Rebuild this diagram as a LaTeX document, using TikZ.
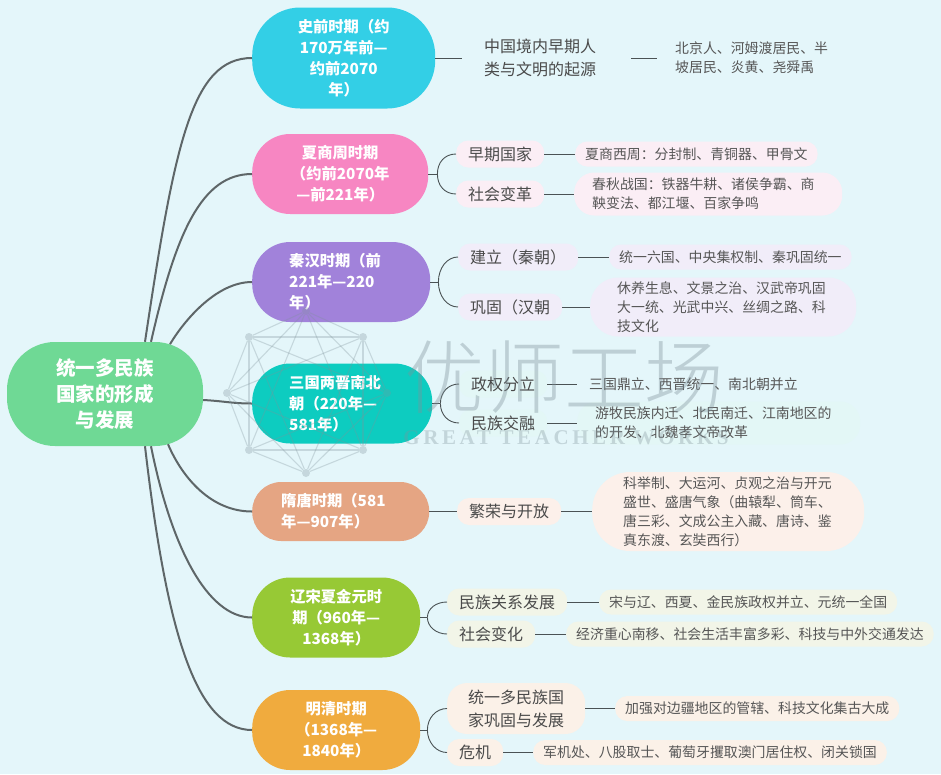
\documentclass[tikz,border=0pt]{standalone}
\usepackage{fontspec}
\setmainfont{Noto Sans CJK SC}
\newfontfamily\wmlight{Noto Sans CJK SC Light}
\newfontfamily\wmserif{Liberation Serif}[LetterSpace=17]
\usepackage{tikz}

\definecolor{pagebg}{HTML}{E4F6FA}
\definecolor{rootgreen}{HTML}{6FD995}
\definecolor{stemgray}{HTML}{5E6668}
\definecolor{linegray}{HTML}{4A5254}
\definecolor{subtext}{HTML}{4A4A4A}
\definecolor{leaftext}{HTML}{565656}
\definecolor{wmgray}{HTML}{7F929A}
\definecolor{shiqiancol}{HTML}{33CFE6}
\definecolor{xiashangcol}{HTML}{F786C2}
\definecolor{qinhancol}{HTML}{A182DA}
\definecolor{sanguocol}{HTML}{0DCCC0}
\definecolor{suitangcol}{HTML}{E5A583}
\definecolor{liaosongcol}{HTML}{97C935}
\definecolor{mingqingcol}{HTML}{F0AB3E}
\definecolor{tintxia}{HTML}{FBEEF5}
\definecolor{tintqin}{HTML}{F1EDF9}
\definecolor{tintsan}{HTML}{E3F7F6}
\definecolor{tintsui}{HTML}{FCF0EA}
\definecolor{tintliao}{HTML}{F2F5E8}
\definecolor{tintming}{HTML}{FBF1E8}

\tikzset{
    rootbox/.style={fill=rootgreen, text=white, rounded corners=48pt, inner sep=0pt, align=center, font=\fontsize{19.5}{26}\selectfont\bfseries},
    periodbox/.style={anchor=west, text=white, inner sep=0pt, rounded corners=38pt, minimum height=80pt, align=center, font=\fontsize{15.3}{21}\selectfont\bfseries},
    subbox/.style={anchor=west, text=subtext, inner xsep=12pt, inner ysep=0pt, rounded corners=12pt, minimum height=27pt, align=left, font=\fontsize{16}{23}\selectfont},
    leafbox/.style={anchor=west, text=leaftext, inner xsep=10pt, inner ysep=0pt, rounded corners=12pt, minimum height=25pt, align=left, font=\fontsize{13.9}{19}\selectfont},
    mainline/.style={draw=stemgray, line width=2pt},
    branchline/.style={draw=linegray, line width=.9pt},
    wmdot/.style={circle, fill=wmgray, inner sep=0pt, minimum size=8pt, opacity=.3}
}

\begin{document}
\begin{tikzpicture}[x=1pt, y=-1pt]

    % Page background, fixes the size
    \useasboundingbox (0,0) rectangle (941,774);
    \fill[pagebg] (0,0) rectangle (941,774);

    % Root and the seven periods
    \node (root) [rootbox, minimum width=196pt, minimum height=104pt] at (105,394) {统一多民族\\国家的形成\\与发展};

    \node (shiqian) [periodbox, fill=shiqiancol, minimum width=183pt, minimum height=101pt, rounded corners=48pt] at (252,58) {史前时期（约\\170万年前—\\约前2070\\年）};
    \node (xiashang) [periodbox, fill=xiashangcol, minimum width=176pt] at (252,174) {夏商周时期\\（约前2070年\\—前221年）};
    \node (qinhan) [periodbox, fill=qinhancol, align=left, inner xsep=37pt, text width=104pt] at (252,282) {秦汉时期（前\\221年—220\\年）};
    \node (sanguo) [periodbox, fill=sanguocol, align=left, inner xsep=37pt, text width=106pt] at (252,403.5) {三国两晋南北\\朝（220年—\\581年）};
    \node (suitang) [periodbox, fill=suitangcol, align=left, inner xsep=29pt, text width=119pt, minimum height=59pt, rounded corners=29pt] at (252,511.5) {隋唐时期（581\\年—907年）};
    \node (liaosong) [periodbox, fill=liaosongcol, minimum width=168pt] at (252,617.5) {辽宋夏金元时\\期（960年—\\1368年）};
    \node (mingqing) [periodbox, fill=mingqingcol, minimum width=168pt] at (252,730) {明清时期\\（1368年—\\1840年）};

    % Second level nodes
    \node (zhongguo) [subbox, inner xsep=22pt, text width=125pt] at (462,58) {中国境内早期人\\类与文明的起源};
    \node (zaoqi) [subbox, fill=tintxia] at (456,154) {早期国家};
    \node (biange) [subbox, fill=tintxia] at (456,194) {社会变革};
    \node (jianli) [subbox, fill=tintqin] at (458,257) {建立（秦朝）};
    \node (gonggu) [subbox, fill=tintqin] at (458,307) {巩固（汉朝};
    \node (zhengquan) [subbox, fill=tintsan] at (459,384) {政权分立};
    \node (jiaorong) [subbox, fill=tintsan] at (459,423) {民族交融};
    \node (fanrong) [subbox, fill=tintsui] at (457,511.5) {繁荣与开放};
    \node (guanxi) [subbox, fill=tintliao] at (447,602) {民族关系发展};
    \node (bianhua) [subbox, fill=tintliao] at (447,634) {社会变化};
    \node (tongyi) [subbox, fill=tintming, inner xsep=21pt, rounded corners=20pt, minimum height=51pt] at (447,708.5) {统一多民族国\\家巩固与发展};
    \node (weiji) [subbox, fill=tintming] at (447,752.5) {危机};

    % Leaves
    \node (renlei) [leafbox, inner xsep=18pt] at (657,58) {北京人、河姆渡居民、半\\坡居民、炎黄、尧舜禹};
    \node (fenfeng) [leafbox, fill=tintxia] at (575,154) {夏商西周：分封制、青铜器、甲骨文};
    \node (chunqiu) [leafbox, fill=tintxia, inner xsep=18pt, text width=232pt, rounded corners=20pt, minimum height=43pt] at (574,194) {春秋战国：铁器牛耕、诸侯争霸、商\\鞅变法、都江堰、百家争鸣};
    \node (liuguo) [leafbox, fill=tintqin] at (609,257) {统一六国、中央集权制、秦巩固统一};
    \node (xiuyang) [leafbox, fill=tintqin, inner xsep=27pt, text width=212pt, rounded corners=28pt, minimum height=59pt] at (590,307) {休养生息、文景之治、汉武帝巩固\\大一统、光武中兴、丝绸之路、科\\技文化};
    \node (dingli) [leafbox, inner xsep=12pt] at (577,384) {三国鼎立、西晋统一、南北朝并立};
    \node (youmu) [leafbox, fill=tintsan, inner xsep=18pt, text width=247pt, rounded corners=20pt, minimum height=43pt] at (577,423) {游牧民族内迁、北民南迁、江南地区的\\的开发、北魏孝文帝改革};
    \node (keju) [leafbox, fill=tintsui, inner xsep=31pt, text width=210pt, rounded corners=38pt, minimum height=79pt] at (592,511.5) {科举制、大运河、贞观之治与开元\\盛世、盛唐气象（曲辕犁、筒车、\\唐三彩、文成公主入藏、唐诗、鉴\\真东渡、玄奘西行）};
    \node (bingli) [leafbox, fill=tintliao] at (599,602) {宋与辽、西夏、金民族政权并立、元统一全国};
    \node (nanyi) [leafbox, fill=tintliao] at (566,634) {经济重心南移、社会生活丰富多彩、科技与中外交通发达};
    \node (bianjiang) [leafbox, fill=tintming] at (615,708.5) {加强对边疆地区的管辖、科技文化集古大成};
    \node (junji) [leafbox, fill=tintming] at (533,752.5) {军机处、八股取士、葡萄牙攫取澳门居住权、闭关锁国};

    % Curves from the root to each period
    \draw[mainline] ([xshift=40pt]root.north) .. controls +(30,-200) and +(-60,0) .. (shiqian.west);
    \draw[mainline] ([xshift=46pt]root.north) .. controls +(25,-110) and +(-50,0) .. (xiashang.west);
    \draw[mainline] ([xshift=65pt,yshift=-2.4pt]root.north) .. controls +(15,-25) and +(-35,0) .. (qinhan.west);
    \draw[mainline] ([yshift=-6pt]root.east) .. controls +(20,1) and +(-20,0) .. (sanguo.west);
    \draw[mainline] ([xshift=63pt,yshift=2pt]root.south) .. controls +(15,35) and +(-40,0) .. (suitang.west);
    \draw[mainline] ([xshift=46pt]root.south) .. controls +(20,100) and +(-45,0) .. (liaosong.west);
    \draw[mainline] ([xshift=40pt]root.south) .. controls +(22,190) and +(-55,0) .. (mingqing.west);

    % Period to second level, fork and arcs
    \draw[branchline] (shiqian.east) -- (zhongguo.west);
    \draw[branchline] (suitang.east) -- (fanrong.west);

    \draw[branchline] (xiashang.east) -- ++(9,0) coordinate (xiafork);
    \draw[branchline] (xiafork) .. controls +(0,-12) and +(-11,0) .. (zaoqi.west);
    \draw[branchline] (xiafork) .. controls +(0,12) and +(-11,0) .. (biange.west);

    \draw[branchline] (qinhan.east) -- ++(8,0) coordinate (qinfork);
    \draw[branchline] (qinfork) .. controls +(0,-14) and +(-11,0) .. (jianli.west);
    \draw[branchline] (qinfork) .. controls +(0,14) and +(-11,0) .. (gonggu.west);

    \draw[branchline] (sanguo.east) -- ++(8,0) coordinate (sanfork);
    \draw[branchline] (sanfork) .. controls +(0,-11) and +(-11,0) .. (zhengquan.west);
    \draw[branchline] (sanfork) .. controls +(0,11) and +(-11,0) .. (jiaorong.west);

    \draw[branchline] (liaosong.east) -- ++(7,0) coordinate (liaofork);
    \draw[branchline] (liaofork) .. controls +(0,-9) and +(-11,0) .. (guanxi.west);
    \draw[branchline] (liaofork) .. controls +(0,9) and +(-11,0) .. (bianhua.west);

    \draw[branchline] (mingqing.east) -- ++(7,0) coordinate (mingfork);
    \draw[branchline] (mingfork) .. controls +(0,-12) and +(-11,0) .. (tongyi.west);
    \draw[branchline] (mingfork) .. controls +(0,12) and +(-11,0) .. (weiji.west);

    % Second level to leaves
    \draw[branchline] (zhongguo.east) -- (renlei.west);
    \draw[branchline] (zaoqi.east) -- (fenfeng.west);
    \draw[branchline] (biange.east) -- (chunqiu.west);
    \draw[branchline] (jianli.east) -- (liuguo.west);
    \draw[branchline] (gonggu.east) -- (xiuyang.west);
    \draw[branchline] (zhengquan.east) -- (dingli.west);
    \draw[branchline] (jiaorong.east) -- (youmu.west);
    \draw[branchline] (fanrong.east) -- (keju.west);
    \draw[branchline] (guanxi.east) -- (bingli.west);
    \draw[branchline] (bianhua.east) -- (nanyi.west);
    \draw[branchline] (tongyi.east) -- (bianjiang.west);
    \draw[branchline] (weiji.east) -- (junji.west);

    % Watermark on top of everything
    \node (wm1) [wmdot] at (306,311) {};
    \node (wm2) [wmdot] at (363,337) {};
    \node (wm3) [wmdot] at (387,393) {};
    \node (wm4) [wmdot] at (363,450) {};
    \node (wm5) [wmdot] at (306,473) {};
    \node (wm6) [wmdot] at (249,450) {};
    \node (wm7) [wmdot] at (227,393) {};
    \node (wm8) [wmdot] at (249,337) {};
    \foreach \a in {1,...,8}
        \foreach \s in {1,2,3} {
            \pgfmathtruncatemacro{\b}{mod(\a+\s-1,8)+1}
            \draw[wmgray, line width=1.1pt, opacity=.3] (wm\a) -- (wm\b);
        }
    \node (wmtitle) [text=wmgray, opacity=.38, inner sep=0pt, font=\fontsize{80}{80}\selectfont\wmlight] at (564,377) {优师工场};
    \node (wmsub) [text=wmgray, opacity=.33, inner sep=0pt, font=\fontsize{21}{21}\selectfont\wmserif\bfseries] at (566,438) {GREAT TEACHER WORKS};

\end{tikzpicture}
\end{document}
